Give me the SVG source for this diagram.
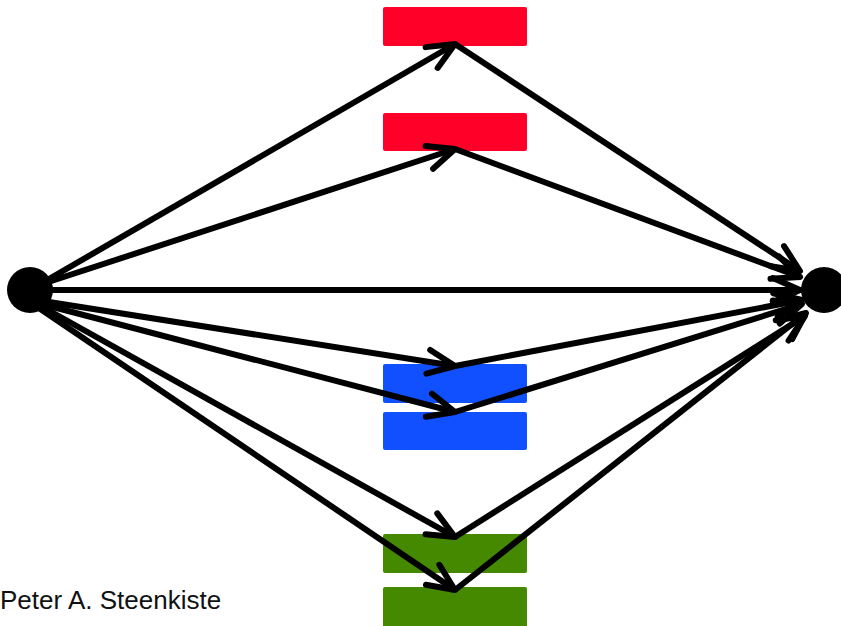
<svg xmlns="http://www.w3.org/2000/svg" width="841" height="626" viewBox="0 0 841 626">
<style>
.red{fill:#FF0029}
.blue{fill:#1150FF}
.green{fill:#458900}
.dot{fill:#000}
.edge{stroke:#000;stroke-width:6;fill:none;marker-end:url(#arr)}
.lbl{font-family:"Liberation Sans",Arial,sans-serif;font-size:26px;fill:#111}
</style>
<defs>
<marker id="arr" markerUnits="userSpaceOnUse" markerWidth="60" markerHeight="60" viewBox="-40 -30 60 60" refX="0" refY="0" orient="auto" overflow="visible">
<path d="M-27,-12 L0,0 L-27,12" fill="none" stroke="#000" stroke-width="6" stroke-linecap="round" stroke-linejoin="round"/>
</marker>
</defs>
<rect width="841" height="626" fill="#fff"/>
<g id="red1"><rect class="red" x="383" y="7" width="144" height="39" rx="2"/></g>
<g id="red2"><rect class="red" x="383" y="113" width="144" height="38" rx="2"/></g>
<g id="blue1"><rect class="blue" x="383" y="364" width="144" height="39" rx="2"/></g>
<g id="blue2"><rect class="blue" x="383" y="412" width="144" height="38" rx="2"/></g>
<g id="green1"><rect class="green" x="383" y="534" width="144" height="39" rx="2"/></g>
<g id="green2"><rect class="green" x="383" y="587" width="144" height="45" rx="2"/></g>
<g id="connectors">
<line class="edge" x1="30" y1="290" x2="455" y2="44"/>
<line class="edge" x1="30" y1="288" x2="455" y2="149"/>
<line class="edge" x1="30" y1="290" x2="800" y2="290"/>
<line class="edge" x1="30" y1="299" x2="455" y2="366"/>
<line class="edge" x1="30" y1="301" x2="455" y2="412"/>
<line class="edge" x1="30" y1="300" x2="455" y2="537"/>
<line class="edge" x1="30" y1="302" x2="455" y2="590"/>
<line class="edge" x1="455" y1="44" x2="800" y2="271"/>
<line class="edge" x1="455" y1="149" x2="800" y2="277"/>
<line class="edge" x1="455" y1="366" x2="802" y2="300"/>
<line class="edge" x1="455" y1="412" x2="802" y2="304"/>
<line class="edge" x1="455" y1="537" x2="805" y2="316"/>
<line class="edge" x1="455" y1="590" x2="806" y2="313"/>
</g>
<g id="source"><circle class="dot" cx="30" cy="290" r="23"/></g>
<g id="sink"><circle class="dot" cx="824" cy="290" r="23"/></g>
<text class="lbl" x="0" y="609">Peter A. Steenkiste</text>
</svg>
